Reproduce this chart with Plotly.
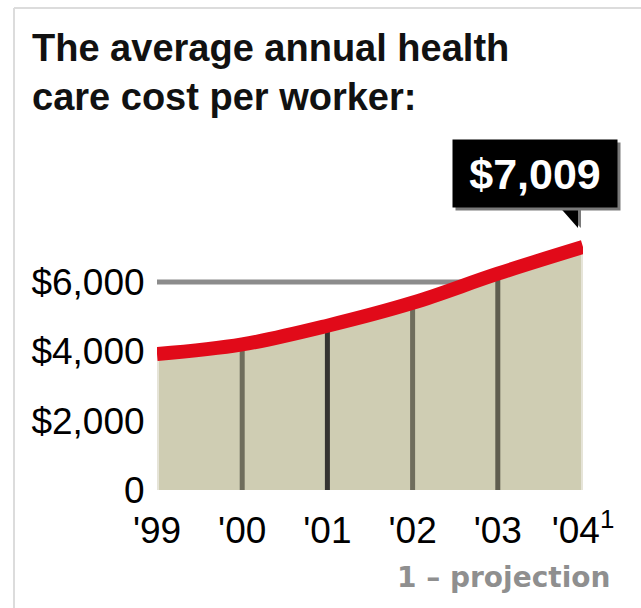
import plotly.graph_objects as go

# Average annual health care cost per worker ('04 is a projection)
years = ["'99", "'00", "'01", "'02", "'03", "'04<sup>1</sup>"]
costs = [3920, 4200, 4740, 5400, 6240, 7009]
y_ticks = [0, 2000, 4000, 6000]
y_tick_text = ["0", "$2,000", "$4,000", "$6,000"]
grid_values = [6000]
callout_text = "$7,009"
footnote = "1 – projection"
title_text = "The average annual health<br>care cost per worker:"

xs = list(range(len(years)))

RED = "#e10a19"
FILL = "#cfcdb3"
TICK_FONT = dict(family="Liberation Sans, Arial, sans-serif", size=37, color="#000")

fig = go.Figure()

# horizontal reference lines (covered by the shaded area where they cross it)
for g in grid_values:
    fig.add_trace(go.Scatter(x=[xs[0], xs[-1]], y=[g, g], mode="lines",
                             line=dict(color="#8c8c8c", width=5),
                             hoverinfo="skip"))

# shaded area under the cost curve
fig.add_trace(go.Scatter(x=xs, y=costs, mode="lines", fill="tozeroy",
                         fillcolor=FILL, line=dict(width=0, shape="spline"),
                         hoverinfo="skip"))

# pale edges at both ends of the shaded area
for i in (xs[0], xs[-1]):
    fig.add_trace(go.Scatter(x=[i, i], y=[0, costs[i]], mode="lines",
                             line=dict(color="#e6e4d8", width=4),
                             hoverinfo="skip"))

# year dividers inside the shaded area
divider_colors = ["#6f6d5c", "#353330", "#6f6d5c", "#5f5d4f"]
for i, c in zip(xs[1:-1], divider_colors):
    fig.add_trace(go.Scatter(x=[i, i], y=[0, costs[i]], mode="lines",
                             line=dict(color=c, width=5),
                             hoverinfo="skip"))

# the cost curve itself
fig.add_trace(go.Scatter(x=xs, y=costs, mode="lines",
                         line=dict(color=RED, width=14, shape="spline"),
                         hoverinfo="skip"))

last_x, last_y = xs[-1], costs[-1]

# callout box: grey shadow then the black label
fig.add_annotation(x=last_x, y=last_y, xref="x", yref="y", text=" ",
                   showarrow=True, arrowcolor="rgba(0,0,0,0)", ax=-45, ay=-71,
                   width=164, height=67, bgcolor="#7a7a7a", borderpad=0)
fig.add_annotation(x=last_x, y=last_y, xref="x", yref="y",
                   text="<b>%s</b>" % callout_text,
                   font=dict(family="Liberation Sans, Arial, sans-serif",
                             size=43, color="white"),
                   showarrow=True, arrowcolor="rgba(0,0,0,0)", ax=-48, ay=-74,
                   width=164, height=67, bgcolor="#000", borderpad=0,
                   align="center", valign="middle")

# pointer under the callout, anchored on the last point
fig.add_shape(type="path", xref="x", yref="y", xsizemode="pixel",
              ysizemode="pixel", xanchor=last_x, yanchor=last_y,
              path="M -25 41 L -2 41 L -2 19 Z",
              fillcolor="#7a7a7a", line=dict(width=0))
fig.add_shape(type="path", xref="x", yref="y", xsizemode="pixel",
              ysizemode="pixel", xanchor=last_x, yanchor=last_y,
              path="M -26 43 L -5 43 L -5 19 Z",
              fillcolor="#000", line=dict(width=0))

# title, left-aligned above the chart
fig.add_annotation(x=-0.298, y=1.490, xref="paper", yref="paper",
                   xanchor="left", yanchor="top", align="left",
                   showarrow=False, text="<b>%s</b>" % title_text,
                   font=dict(family="Liberation Sans, Arial, sans-serif",
                             size=38, color="#111"))

# footnote
fig.add_annotation(x=1.068, y=-0.279, xref="paper", yref="paper",
                   xanchor="right", yanchor="middle", showarrow=False,
                   text="<b>%s</b>" % footnote,
                   font=dict(family="DejaVu Sans, sans-serif", size=28,
                             color="#8f8f8f"))

# thin frame on the left and top
frame = dict(color="#dcdcdc", width=2)
fig.add_shape(type="line", xref="paper", yref="paper",
              x0=-0.3357, x1=-0.3357, y0=-0.42, y1=1.545, line=frame)
fig.add_shape(type="line", xref="paper", yref="paper",
              x0=-0.3357, x1=1.2, y0=1.545, y1=1.545, line=frame)

fig.update_layout(
    width=641, height=608,
    margin=dict(l=157, r=58, t=178, b=118),
    paper_bgcolor="white", plot_bgcolor="white",
    showlegend=False,
    xaxis=dict(range=[xs[0], xs[-1]], tickvals=xs, ticktext=years,
               showgrid=False, zeroline=False, showline=False,
               ticks="outside", ticklen=8, tickcolor="rgba(0,0,0,0)",
               tickfont=TICK_FONT, fixedrange=True),
    yaxis=dict(range=[0, 9000], tickvals=y_ticks, ticktext=y_tick_text,
               showgrid=False, zeroline=False, showline=False,
               ticks="outside", ticklen=4, tickcolor="rgba(0,0,0,0)",
               tickfont=TICK_FONT, fixedrange=True),
)

fig.write_html("out.html")
